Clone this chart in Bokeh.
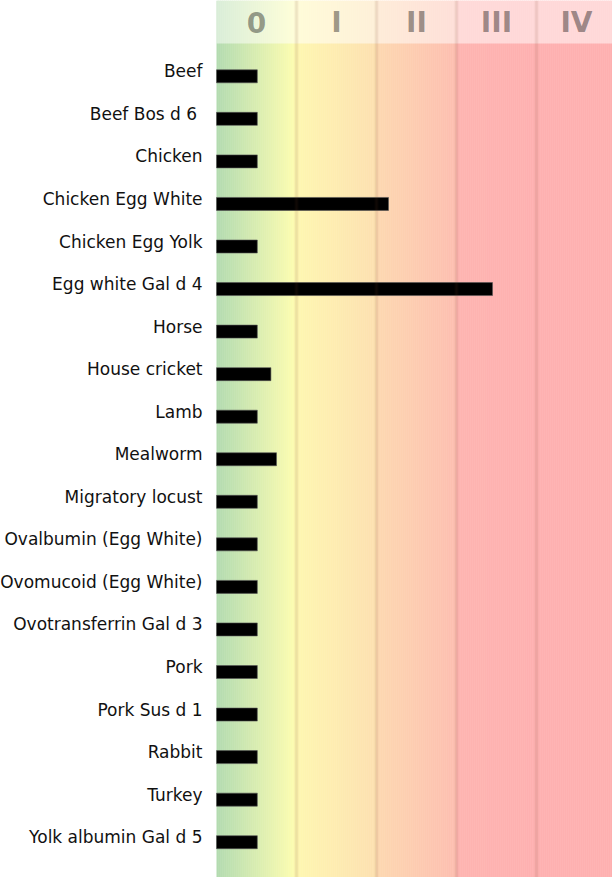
from bokeh.plotting import figure
from bokeh.models import Range1d, ColumnDataSource, Span
from bokeh.core.properties import value
from bokeh.embed import file_html
from bokeh.resources import INLINE

# ---- data ----
categories = [
    "Beef", "Beef Bos d 6 ", "Chicken", "Chicken Egg White", "Chicken Egg Yolk",
    "Egg white Gal d 4", "Horse", "House cricket", "Lamb", "Mealworm",
    "Migratory locust", "Ovalbumin (Egg White)", "Ovomucoid (Egg White)",
    "Ovotransferrin Gal d 3", "Pork", "Pork Sus d 1", "Rabbit", "Turkey",
    "Yolk albumin Gal d 5",
]
values = [0.51, 0.51, 0.51, 2.15, 0.51, 3.45, 0.51, 0.68, 0.51, 0.75,
          0.51, 0.51, 0.51, 0.51, 0.51, 0.51, 0.51, 0.51, 0.51]
class_labels = ["0", "I", "II", "III", "IV"]
class_centers = [0.5, 1.5, 2.5, 3.5, 4.5]
class_bounds = [1, 2, 3, 4]

# gradient stops (class units -> colour)
grad_x = [0.0, 0.95, 1.0, 2.0, 2.0, 3.0, 3.0, 4.0, 5.0]
grad_c = [(178, 219, 176), (251, 252, 176), (254, 247, 176), (253, 224, 176),
          (253, 216, 176), (253, 190, 176), (254, 180, 176), (254, 176, 176),
          (254, 176, 176)]

# ---- layout (pixels) ----
W, H = 612, 877
LEFT_PX = 216
PX_PER_CLASS = 80.0
ROW_PX = 42.55
FIRST_ROW_PX = 75.8
HEADER_PX = 43

n = len(categories)
y_top = -FIRST_ROW_PX / ROW_PX
y_bottom = y_top + H / ROW_PX
y_header = y_top + HEADER_PX / ROW_PX
x_left = -LEFT_PX / PX_PER_CLASS
x_right = x_left + W / PX_PER_CLASS

p = figure(width=W, height=H, output_backend="svg", toolbar_location=None,
           x_range=Range1d(x_left, x_right), y_range=Range1d(y_bottom, y_top),
           min_border=0, min_border_left=0, min_border_right=0,
           min_border_top=0, min_border_bottom=0)
p.axis.visible = False
p.grid.visible = False
p.outline_line_color = None
p.background_fill_color = "white"
p.border_fill_color = "white"


def interp(x):
    for i in range(len(grad_x) - 1):
        a, b = grad_x[i], grad_x[i + 1]
        if a <= x <= b and b > a:
            t = (x - a) / (b - a)
            c0, c1 = grad_c[i], grad_c[i + 1]
            return "#%02x%02x%02x" % tuple(int(round(c0[k] + (c1[k] - c0[k]) * t)) for k in range(3))
    c = grad_c[-1]
    return "#%02x%02x%02x" % c


step = 0.025
lefts, rights, cols = [], [], []
k = 0
while k * step < x_right:
    l = k * step
    r = l + step
    lefts.append(l)
    rights.append(r + 0.005)
    cols.append(interp(l + step / 2))
    k += 1
gsrc = ColumnDataSource(dict(left=lefts, right=rights, color=cols))
p.quad(left="left", right="right", top=y_top, bottom=y_bottom, fill_color="color",
       line_color=None, source=gsrc)

# header lightening
p.quad(left=0, right=x_right, top=y_top, bottom=y_header, fill_color="white",
       fill_alpha=0.5, line_color=None)

# class boundary lines
for b in class_bounds:
    p.add_layout(Span(location=b, dimension="height", line_color="#7a4a30",
                      line_alpha=0.07, line_width=4))
    p.add_layout(Span(location=b, dimension="height", line_color="#7a4a30",
                      line_alpha=0.06, line_width=2))

# class labels
hsrc = ColumnDataSource(dict(x=class_centers, y=[(y_top + y_header) / 2] * 5, t=class_labels))
p.text(x="x", y="y", text="t", source=hsrc, text_align="center", text_baseline="middle",
       text_font=value("DejaVu Sans"), text_font_style="bold", text_font_size="28px",
       text_color="black", text_alpha=0.4)

# bars
idx = list(range(n))
src = ColumnDataSource(dict(y=idx, right=values, cat=categories))
p.hbar(y="y", left=0, right="right", height=13 / ROW_PX, source=src,
       fill_color="black", line_color="#555555", line_alpha=0.6, line_width=1)

# category labels
p.text(x=-14 / PX_PER_CLASS, y="y", text="cat", source=src, y_offset=-5,
       text_align="right", text_baseline="middle",
       text_font=value("DejaVu Sans"), text_font_size="17px", text_color="#111111")

html = file_html(p, INLINE)
html = html.replace("<head>", "<head><style>body{margin:0;}</style>", 1)
open("out.html", "w").write(html)
